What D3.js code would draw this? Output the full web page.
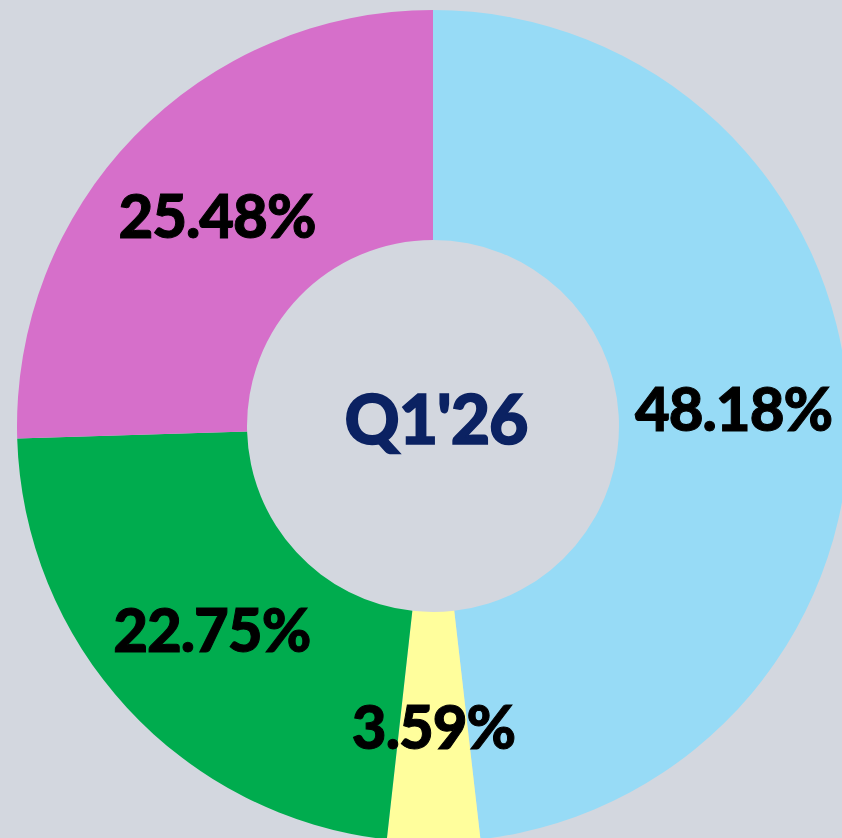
<!DOCTYPE html>
<html>
<head>
<meta charset="utf-8">
<script src="https://cdn.jsdelivr.net/npm/d3@7"></script>
<style>
  html, body { margin: 0; padding: 0; background: #d3d7df; overflow: hidden; }
  svg { display: block; }
  .pct { font-family: "Lato", "Inter", sans-serif; font-weight: 900; fill: #000; }
  .quarter { font-family: "Lato", "Inter", sans-serif; font-weight: 900; fill: #0b2262; }
</style>
</head>
<body>
<div id="chart"></div>
<script>
// shares per segment, clockwise from 12 o'clock
var segments = ["Blue", "Yellow", "Green", "Pink"];
var shares = [48.18, 3.59, 22.75, 25.48];
var colours = ["#97dbf6", "#fffe9c", "#00ac4e", "#d66fca"];
var centreLabel = "Q1'26";

var chart = {
    svgWidth: 842,
    svgHeight: 838,
    cx: 433,
    cy: 426,
    outer: 416,
    inner: 186
};

var svg = d3.select("#chart").append("svg")
    .attr("width", chart.svgWidth)
    .attr("height", chart.svgHeight);

svg.append("rect")
    .attr("width", chart.svgWidth)
    .attr("height", chart.svgHeight)
    .attr("fill", "#d3d7df");

var pie = d3.pie()
    .sort(null)
    .value(d => d.value);

var arc = d3.arc()
    .innerRadius(chart.inner)
    .outerRadius(chart.outer);

var data = segments.map((s, i) => ({ name: s, value: shares[i], colour: colours[i] }));

var g = svg.append("g")
    .attr("transform", "translate(" + chart.cx + "," + chart.cy + ")");

g.selectAll("path.slice")
    .data(pie(data))
    .enter().append("path")
    .attr("class", "slice")
    .attr("d", arc)
    .attr("fill", d => d.data.colour);

g.selectAll("text.pct")
    .data(pie(data))
    .enter().append("text")
    .attr("class", "pct")
    .attr("x", d => arc.centroid(d)[0])
    .attr("y", d => arc.centroid(d)[1] + 22)
    .attr("text-anchor", "middle")
    .attr("font-size", 60)
    .attr("letter-spacing", -1)
    .attr("stroke", "#000")
    .attr("stroke-width", 1)
    .text(d => d.data.value.toFixed(2) + "%");

g.append("text")
    .attr("class", "quarter")
    .attr("x", 3)
    .attr("y", 18)
    .attr("text-anchor", "middle")
    .attr("font-size", 68)
    .attr("letter-spacing", -1)
    .attr("stroke", "#0b2262")
    .attr("stroke-width", 1.5)
    .text(centreLabel);
</script>
</body>
</html>
